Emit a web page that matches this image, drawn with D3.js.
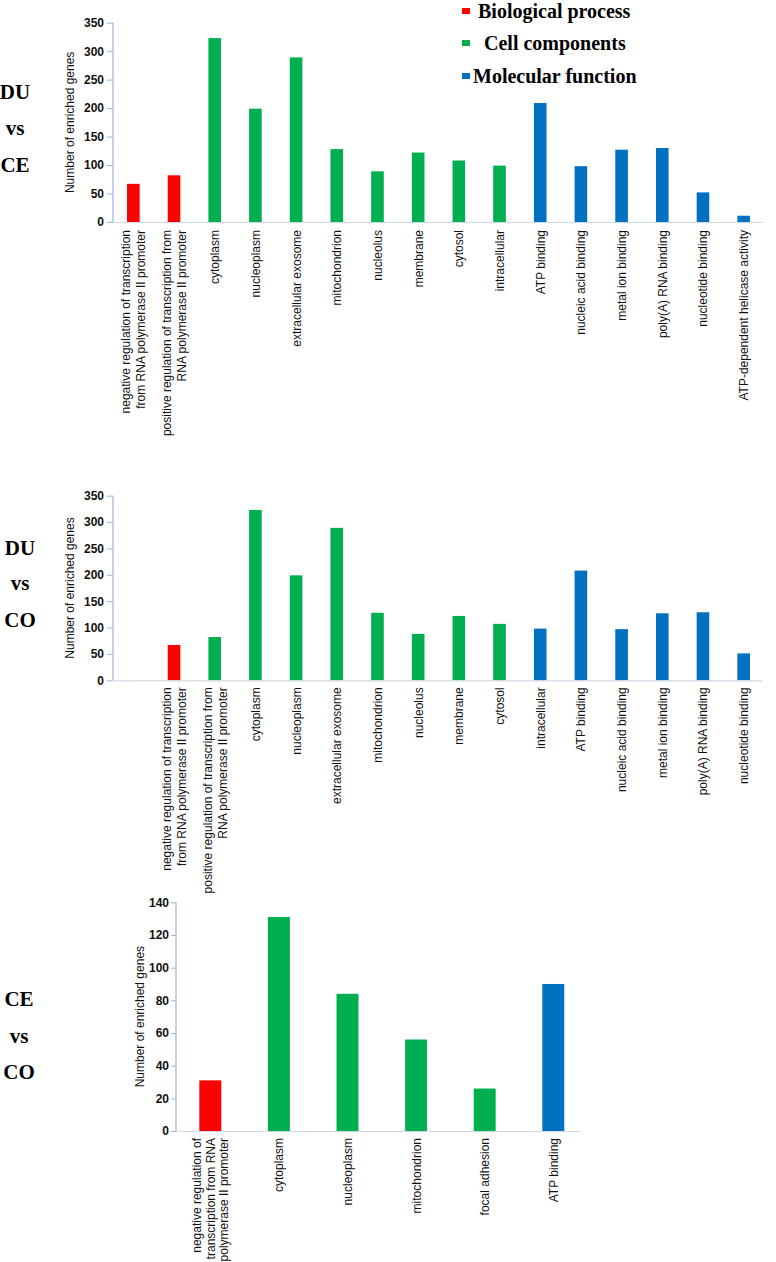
<!DOCTYPE html>
<html>
<head>
<meta charset="utf-8">
<script src="https://cdn.jsdelivr.net/npm/d3@7"></script>
<style>
  html, body { margin: 0; padding: 0; background: #ffffff; }
  svg { display: block; }
</style>
</head>
<body>
<svg id="chart" width="776" height="1262"></svg>
<script>
// ---------- DATA ----------
const groupNames = ["Biological process", "Cell components", "Molecular function"];
const groupColors = ["#ff0000", "#00b050", "#0070c0"];

// Panel 1: DU vs CE
const categories1 = [
  "negative regulation of transcription|from RNA polymerase II promoter",
  "positive regulation of transcription from|RNA polymerase II promoter",
  "cytoplasm", "nucleoplasm", "extracellular exosome", "mitochondrion",
  "nucleolus", "membrane", "cytosol", "intracellular",
  "ATP binding", "nucleic acid binding", "metal ion binding",
  "poly(A) RNA binding", "nucleotide binding", "ATP-dependent helicase activity"
];
const values1 = [67, 82, 323, 199, 289, 128, 89, 122, 108, 99, 209, 98, 127, 130, 52, 11];
const groups1 = [0, 0, 1, 1, 1, 1, 1, 1, 1, 1, 2, 2, 2, 2, 2, 2];

// Panel 2: DU vs CO (first slot empty)
const categories2 = [
  "",
  "negative regulation of transcription|from RNA polymerase II promoter",
  "positive regulation of transcription from|RNA polymerase II promoter",
  "cytoplasm", "nucleoplasm", "extracellular exosome", "mitochondrion",
  "nucleolus", "membrane", "cytosol", "intracellular",
  "ATP binding", "nucleic acid binding", "metal ion binding",
  "poly(A) RNA binding", "nucleotide binding"
];
const values2 = [null, 67, 82, 323, 199, 289, 128, 88, 122, 107, 98, 208, 97, 127, 129, 51];
const groups2 = [null, 0, 1, 1, 1, 1, 1, 1, 1, 1, 2, 2, 2, 2, 2, 2];

// Panel 3: CE vs CO
const categories3 = [
  "negative regulation of|transcription from RNA|polymerase II promoter",
  "cytoplasm", "nucleoplasm", "mitochondrion", "focal adhesion", "ATP binding"
];
const values3 = [31, 131, 84, 56, 26, 90];
const groups3 = [0, 1, 1, 1, 1, 2];

const yTicks12 = [0, 50, 100, 150, 200, 250, 300, 350];
const yTicks3 = [0, 20, 40, 60, 80, 100, 120, 140];

const yTitle = "Number of enriched genes";
const panelNames1 = ["DU", "vs", "CE"];
const panelNames2 = ["DU", "vs", "CO"];
const panelNames3 = ["CE", "vs", "CO"];

// ---------- DRAW ----------
const svg = d3.select("#chart");

function drawPanel(opt) {
  const g = svg.append("g");
  const x = d3.scaleBand()
    .domain(opt.categories.map((c, i) => i))
    .range([opt.x0, opt.x1])
    .paddingInner(opt.pad).paddingOuter(opt.pad / 2);
  const y = d3.scaleLinear().domain([0, opt.yMax]).range([opt.yBottom, opt.yTop]);

  // bars
  g.selectAll("rect.bar")
    .data(opt.values.map((v, i) => ({ v, i, grp: opt.groups[i] })).filter(d => d.v != null))
    .join("rect")
    .attr("class", "bar")
    .attr("x", d => x(d.i))
    .attr("width", x.bandwidth())
    .attr("y", d => y(d.v))
    .attr("height", d => y(0) - y(d.v))
    .attr("fill", d => groupColors[d.grp]);

  // y axis
  const yAxis = d3.axisLeft(y).tickValues(opt.ticks).tickSize(opt.tickSize).tickPadding(opt.tickPad);
  const ya = g.append("g").attr("transform", `translate(${opt.x0},0)`).call(yAxis);
  ya.select(".domain").attr("stroke", "#9fb5d6").attr("stroke-width", 1.2)
    .attr("d", `M0,${opt.yBottom}V${opt.yTop}`);
  ya.selectAll(".tick line").attr("stroke", "#9fb5d6");
  ya.selectAll(".tick text")
    .attr("font-family", "Liberation Sans, Arial, sans-serif")
    .attr("font-size", opt.tickFont).attr("font-weight", "bold").attr("fill", "#111");

  // x axis line
  g.append("line")
    .attr("x1", opt.x0).attr("x2", opt.axisEnd)
    .attr("y1", opt.yBottom + 0.5).attr("y2", opt.yBottom + 0.5)
    .attr("stroke", "#d3dae6").attr("stroke-width", 1.2);

  // category labels
  opt.categories.forEach((c, i) => {
    if (!c) return;
    const lines = c.split("|");
    const cx = x(i) + x.bandwidth() / 2;
    const t = g.append("text")
      .attr("transform", `translate(${cx},${opt.yBottom + opt.labelGap}) rotate(-90)`)
      .attr("text-anchor", "end")
      .attr("font-family", "Liberation Sans, Arial, sans-serif")
      .attr("font-size", 12).attr("fill", "#111");
    lines.forEach((ln, k) => {
      t.append("tspan").attr("x", 0)
        .attr("y", (k - (lines.length - 1) / 2) * opt.lineH + 4.5)
        .text(ln);
    });
  });

  // y title
  g.append("text")
    .attr("transform", `translate(${opt.titleX},${(opt.yTop + opt.yBottom) / 2}) rotate(-90)`)
    .attr("text-anchor", "middle").attr("dy", "0.35em")
    .attr("font-family", "Liberation Sans, Arial, sans-serif")
    .attr("font-size", 12).attr("fill", "#111")
    .text(yTitle);

  // panel name
  opt.names.forEach((n, k) => {
    g.append("text")
      .attr("x", opt.nameX).attr("y", opt.nameY[k])
      .attr("text-anchor", "middle")
      .attr("font-family", "Liberation Serif, Times New Roman, serif")
      .attr("font-weight", "bold").attr("font-size", 21).attr("fill", "#000")
      .text(n);
  });
}

drawPanel({
  categories: categories1, values: values1, groups: groups1,
  x0: 113, x1: 764, axisEnd: 763, pad: 0.69,
  yMax: 350, yBottom: 222, yTop: 22.7, ticks: yTicks12,
  tickSize: 6, tickPad: 3, tickFont: 12, labelGap: 8, lineH: 15,
  titleX: 70, names: panelNames1, nameX: 15, nameY: [99, 135, 172]
});

drawPanel({
  categories: categories2, values: values2, groups: groups2,
  x0: 113, x1: 764, axisEnd: 763, pad: 0.69,
  yMax: 350, yBottom: 680.3, yTop: 495.7, ticks: yTicks12,
  tickSize: 6, tickPad: 3, tickFont: 12, labelGap: 7, lineH: 15,
  titleX: 70, names: panelNames2, nameX: 20, nameY: [555, 590, 627]
});

drawPanel({
  categories: categories3, values: values3, groups: groups3,
  x0: 176, x1: 587.6, axisEnd: 581, pad: 0.68,
  yMax: 140, yBottom: 1131, yTop: 902.3, ticks: yTicks3,
  tickSize: 5, tickPad: 2, tickFont: 12, labelGap: 7, lineH: 13.5,
  titleX: 140, names: panelNames3, nameX: 19, nameY: [1006, 1043, 1079]
});

// legend
const legY = [18, 50, 83];
const legX = [478, 484, 473];
groupNames.forEach((name, k) => {
  svg.append("rect")
    .attr("x", 462).attr("y", legY[k] - 10)
    .attr("width", 8).attr("height", 6)
    .attr("fill", groupColors[k]);
  svg.append("text")
    .attr("x", legX[k]).attr("y", legY[k])
    .attr("font-family", "Liberation Serif, Times New Roman, serif")
    .attr("font-weight", "bold").attr("font-size", 20).attr("fill", "#000")
    .text(name);
});
</script>
</body>
</html>
